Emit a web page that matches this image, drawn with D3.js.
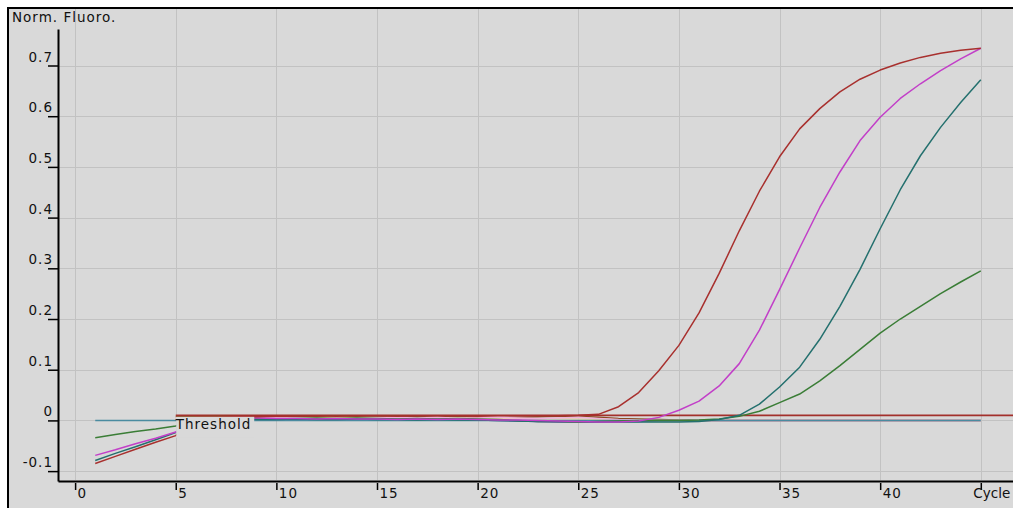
<!DOCTYPE html>
<html>
<head>
<meta charset="utf-8">
<script src="https://cdn.jsdelivr.net/npm/d3@7"></script>
<style>
  html, body { margin: 0; background: #ffffff; }
  svg { display: block; }
  text { font-family: "DejaVu Sans", sans-serif; font-size: 13.5px; fill: #111111; letter-spacing: 1px; }
</style>
</head>
<body>
<svg id="chart" width="1013" height="508"></svg>
<script>
// Amplification run: normalised fluorescence per cycle
const cycles = [1, 2, 3, 4, 5, 6, 7, 8, 9, 10, 11, 12, 13, 14, 15, 16, 17, 18, 19, 20,
  21, 22, 23, 24, 25, 26, 27, 28, 29, 30, 31, 32, 33, 34, 35, 36, 37, 38, 39, 40,
  41, 42, 43, 44, 45];

const sampleRed = [-0.085, -0.071, -0.057, -0.043, -0.030, 0.006, 0.006, 0.007, 0.007, 0.008,
  0.008, 0.009, 0.008, 0.009, 0.009, 0.008, 0.009, 0.009, 0.009, 0.008,
  0.009, 0.009, 0.009, 0.009, 0.010, 0.012, 0.027, 0.055, 0.098, 0.148,
  0.212, 0.290, 0.374, 0.452, 0.520, 0.575, 0.615, 0.648, 0.673, 0.691,
  0.705, 0.716, 0.724, 0.730, 0.734];

const sampleMagenta = [-0.069, -0.058, -0.046, -0.035, -0.023, 0.004, 0.005, 0.004, 0.005, 0.004,
  0.004, 0.003, 0.004, 0.003, 0.003, 0.002, 0.003, 0.002, 0.003, 0.002,
  0.001, 0.001, 0.000, -0.001, -0.002, -0.003, -0.003, -0.001, 0.006, 0.020,
  0.038, 0.068, 0.112, 0.178, 0.258, 0.340, 0.420, 0.490, 0.552, 0.598,
  0.635, 0.664, 0.690, 0.713, 0.734];

const sampleTeal = [-0.079, -0.065, -0.052, -0.038, -0.024, 0.002, 0.002, 0.003, 0.002, 0.002,
  0.003, 0.002, 0.002, 0.003, 0.002, 0.002, 0.001, 0.002, 0.001, 0.001,
  0.000, -0.001, -0.002, -0.002, -0.002, -0.003, -0.003, -0.003, -0.003, -0.003,
  -0.002, 0.002, 0.010, 0.032, 0.066, 0.105, 0.160, 0.225, 0.298, 0.378,
  0.455, 0.522, 0.578, 0.627, 0.672];

const sampleGreen = [-0.034, -0.028, -0.022, -0.017, -0.011, 0.003, 0.004, 0.003, 0.004, 0.003,
  0.004, 0.005, 0.004, 0.005, 0.004, 0.003, 0.004, 0.003, 0.004, 0.003,
  0.002, 0.000, -0.002, -0.002, -0.003, -0.002, -0.001, 0.000, 0.000, 0.000,
  0.001, 0.003, 0.008, 0.018, 0.035, 0.052, 0.078, 0.108, 0.140, 0.172,
  0.200, 0.225, 0.250, 0.273, 0.295];

const sampleNtc = [0, 0, 0, 0, 0, 0, 0, 0, 0, 0, 0, 0, 0, 0, 0, 0, 0, 0, 0, 0,
  0, 0, 0, 0, 0, 0, 0, 0, 0, 0, 0, 0, 0, 0, 0, 0, 0, 0, 0, 0,
  0, 0, 0, 0, 0];

// Non-amplifying wells, recorded from cycle 5 on
const samplePurple = [null, null, null, null, 0.002, 0.002, 0.002, 0.003, 0.003, 0.002,
  0.002, 0.003, 0.002, 0.002, 0.003, 0.002, 0.003, 0.002, 0.001, 0.001,
  0.000, -0.001, -0.002, -0.003, -0.003, -0.003, -0.002, -0.002, 0.000, 0.000,
  0.000, 0.000, 0.000, 0.000, 0.000, 0.000, 0.000, 0.000, 0.000, 0.000,
  0.000, 0.000, 0.000, 0.000, 0.000];

const sampleBrown = [null, null, null, null, 0.007, 0.007, 0.008, 0.007, 0.006, 0.007,
  0.008, 0.008, 0.009, 0.008, 0.009, 0.008, 0.007, 0.008, 0.008, 0.006,
  0.005, 0.006, 0.007, 0.008, 0.008, 0.006, 0.004, 0.003, 0.002, 0.001,
  0.000, 0.000, 0.000, 0.000, 0.000, 0.000, 0.000, 0.000, 0.000, 0.000,
  0.000, 0.000, 0.000, 0.000, 0.000];

const sampleTan = [null, null, null, null, 0.004, 0.004, 0.005, 0.004, 0.004, 0.005,
  0.004, 0.005, 0.006, 0.005, 0.004, 0.003, 0.004, 0.005, 0.005, 0.004,
  0.005, 0.004, 0.003, 0.004, 0.003, 0.002, 0.001, 0.000, 0.000, 0.000,
  0.000, 0.000, 0.000, 0.000, 0.000, 0.000, 0.000, 0.000, 0.000, 0.000,
  0.000, 0.000, 0.000, 0.000, 0.000];

const samplePink = [null, null, null, null, 0.005, 0.005, 0.004, 0.005, 0.006, 0.005,
  0.004, 0.004, 0.003, 0.004, 0.005, 0.006, 0.005, 0.006, 0.004, 0.005,
  0.006, 0.005, 0.004, 0.005, 0.006, 0.004, 0.002, 0.001, 0.000, 0.000,
  0.000, 0.000, 0.000, 0.000, 0.000, 0.000, 0.000, 0.000, 0.000, 0.000,
  0.000, 0.000, 0.000, 0.000, 0.000];

const thresholdValue = 0.01;
const thresholdStart = 5;

const yTicks = [-0.1, 0, 0.1, 0.2, 0.3, 0.4, 0.5, 0.6, 0.7];
const yTickLabels = ["-0.1", "0", "0.1", "0.2", "0.3", "0.4", "0.5", "0.6", "0.7"];
const xTicks = [0, 5, 10, 15, 20, 25, 30, 35, 40, 45];
const xTickLabels = ["0", "5", "10", "15", "20", "25", "30", "35", "40", "Cycle"];

const W = 1013, H = 508;
const frameX = 8, frameY = 8;
const axisX = 58, axisY = 481, axisTop = 29;

const svg = d3.select("#chart");

const x = d3.scaleLinear().domain([-0.85, 46.6]).range([axisX, W]);
const y = d3.scaleLinear().domain([-0.1195, 0.772]).range([axisY, axisTop]);

// panel background and frame
svg.append("rect").attr("x", frameX).attr("y", frameY)
  .attr("width", W - frameX).attr("height", H - frameY).attr("fill", "#d9d9d9");
svg.append("line").attr("x1", frameX - 1).attr("x2", W).attr("y1", frameY).attr("y2", frameY)
  .attr("stroke", "#000").attr("stroke-width", 2);
svg.append("line").attr("x1", frameX).attr("x2", frameX).attr("y1", frameY - 1).attr("y2", H)
  .attr("stroke", "#000").attr("stroke-width", 2);

svg.append("defs").append("clipPath").attr("id", "plotClip")
  .append("rect").attr("x", axisX + 1).attr("y", frameY + 1)
  .attr("width", W - axisX - 1).attr("height", axisY - frameY - 2);

// grid
const grid = svg.append("g").attr("clip-path", "url(#plotClip)");
grid.selectAll("line.v").data(xTicks).join("line").attr("class", "v")
  .attr("x1", d => Math.round(x(d)) + 0.5).attr("x2", d => Math.round(x(d)) + 0.5)
  .attr("y1", frameY).attr("y2", axisY)
  .attr("stroke", "#c2c2c2").attr("stroke-width", 1);
grid.selectAll("line.h").data(yTicks).join("line").attr("class", "h")
  .attr("x1", axisX).attr("x2", W)
  .attr("y1", d => Math.round(y(d)) + 0.5).attr("y2", d => Math.round(y(d)) + 0.5)
  .attr("stroke", "#c2c2c2").attr("stroke-width", 1);

const plot = svg.append("g").attr("clip-path", "url(#plotClip)");

// threshold line
plot.append("line")
  .attr("x1", x(thresholdStart)).attr("x2", W)
  .attr("y1", y(thresholdValue)).attr("y2", y(thresholdValue))
  .attr("stroke", "#a3302c").attr("stroke-width", 1.6);

const series = [
  { values: samplePurple, color: "#7b3fc4" },
  { values: sampleBrown, color: "#8a4a22" },
  { values: sampleTan, color: "#e6d4a6" },
  { values: samplePink, color: "#efb3dc" },
  { values: sampleNtc, color: "#4a8ba0" },
  { values: sampleGreen, color: "#3a7d36" },
  { values: sampleTeal, color: "#24706e" },
  { values: sampleMagenta, color: "#c23fc8" },
  { values: sampleRed, color: "#a8302e" }
];

const line = d3.line()
  .defined(d => d.v !== null)
  .x(d => x(d.c))
  .y(d => y(d.v));

plot.selectAll("path.curve").data(series).join("path").attr("class", "curve")
  .attr("d", s => line(cycles.map((c, i) => ({ c: c, v: s.values[i] }))))
  .attr("fill", "none")
  .attr("stroke", s => s.color)
  .attr("stroke-width", 1.5)
  .attr("stroke-linejoin", "round");

// threshold label with a panel-coloured backing
const lblX = x(thresholdStart);
plot.append("rect").attr("x", lblX + 0.5).attr("y", y(thresholdValue) + 1.5)
  .attr("width", x(8.9) - lblX - 0.5).attr("height", 21).attr("fill", "#d9d9d9");
svg.append("text").attr("x", lblX).attr("y", y(thresholdValue) + 14)
  .text("Threshold");

// y axis
const yAxis = svg.append("g").attr("transform", `translate(${axisX},0)`)
  .call(d3.axisLeft(y).tickValues(yTicks).tickSize(10).tickSizeOuter(0)
    .tickFormat((d, i) => yTickLabels[i]));
yAxis.select(".domain").attr("stroke", "#000").attr("stroke-width", 2);
yAxis.selectAll(".tick line").attr("stroke", "#000").attr("stroke-width", 1.5);
yAxis.selectAll(".tick text").attr("x", -5).attr("dy", -4.5)
  .attr("font-size", null).attr("font-family", null).attr("fill", "#111111");

// x axis
const xAxis = svg.append("g").attr("transform", `translate(0,${axisY})`)
  .call(d3.axisBottom(x).tickValues(xTicks).tickSize(9).tickSizeOuter(0)
    .tickFormat((d, i) => xTickLabels[i]));
xAxis.select(".domain").attr("stroke", "#000").attr("stroke-width", 2);
xAxis.selectAll(".tick line").attr("stroke", "#000").attr("stroke-width", 1.5).attr("y1", 2);
xAxis.selectAll(".tick text")
  .attr("text-anchor", "start").attr("y", 17).attr("dy", 0)
  .attr("x", (d, i) => xTickLabels[i] === "Cycle" ? -8 : 2)
  .style("letter-spacing", (d, i) => xTickLabels[i] === "Cycle" ? "0px" : null)
  .attr("font-size", null).attr("font-family", null).attr("fill", "#111111");
xAxis.attr("font-size", null).attr("font-family", null);
yAxis.attr("font-size", null).attr("font-family", null);

// y axis title
svg.append("text").attr("x", 12).attr("y", 22).text("Norm. Fluoro.");
</script>
</body>
</html>
